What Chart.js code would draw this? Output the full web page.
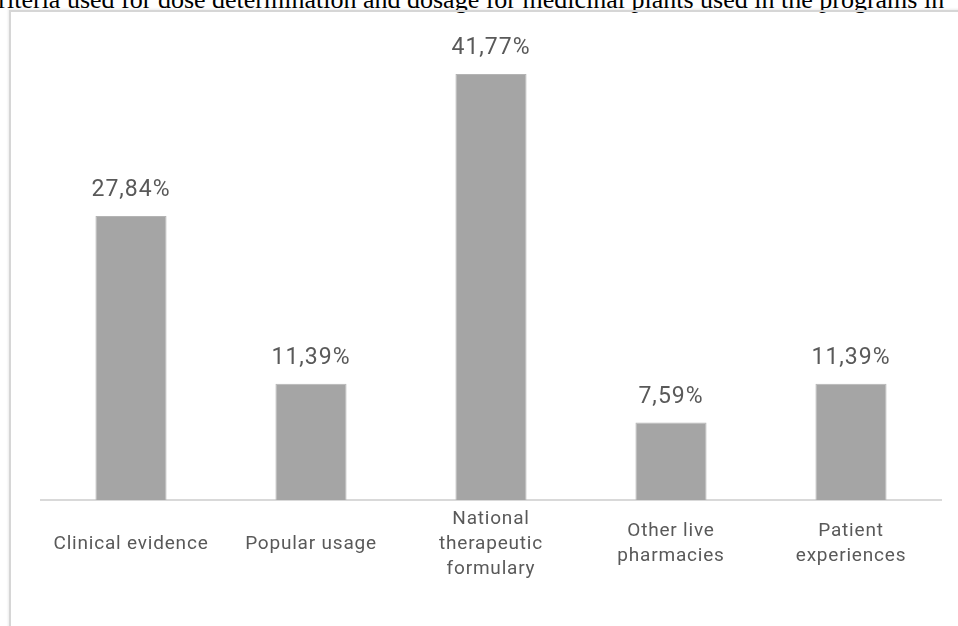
<!DOCTYPE html>
<html>
<head>
<meta charset="utf-8">
<script src="https://cdn.jsdelivr.net/npm/chart.js@4.4.1/dist/chart.umd.min.js"></script>
<style>
  html, body { margin: 0; padding: 0; background: #fff; }
  body { width: 958px; height: 626px; position: relative; overflow: hidden; }
  #title {
    position: absolute; left: -19px; top: -15px; white-space: nowrap;
    font-family: "Liberation Serif", "Times New Roman", serif; font-size: 26px; color: #000;
  }
  #frame {
    position: absolute; left: 9px; top: 10px; width: 1000px; height: 700px;
    border-left: 2px solid #d6d6d6; border-top: 2px solid #d6d6d6;
    box-shadow: -1px -1px 2px rgba(0,0,0,0.08);
  }
  #wrap { position: absolute; left: 0; top: 0; width: 958px; height: 626px; }
</style>
</head>
<body>
<div id="title">Criteria used for dose determination and dosage for medicinal plants used in the programs in</div>
<div id="frame"></div>
<div id="wrap"><canvas id="chart"></canvas></div>
<script>
var categories = [
  'Clinical evidence',
  'Popular usage',
  ['National', 'therapeutic', 'formulary'],
  ['Other live', 'pharmacies'],
  ['Patient', 'experiences']
];
var percentages = [27.84, 11.39, 41.77, 7.59, 11.39];
var percentLabels = ['27,84%', '11,39%', '41,77%', '7,59%', '11,39%'];

// slightly wider text, like the original
var spacing = {
  id: 'spacing',
  beforeDraw: function (chart) {
    chart.ctx.letterSpacing = '0.8px';
  }
};

// labels above each bar
var barLabels = {
  id: 'barLabels',
  afterDatasetsDraw: function (chart) {
    var ctx = chart.ctx;
    var meta = chart.getDatasetMeta(0);
    ctx.save();
    ctx.letterSpacing = '1px';
    ctx.font = '23px Roboto';
    ctx.fillStyle = '#595959';
    ctx.textAlign = 'center';
    ctx.textBaseline = 'alphabetic';
    meta.data.forEach(function (bar, i) {
      ctx.fillText(percentLabels[i], bar.x, bar.y - 20);
    });
    ctx.restore();
  }
};

document.addEventListener('DOMContentLoaded', function () {
  var ctx = document.getElementById('chart').getContext('2d');
  new Chart(ctx, {
    type: 'bar',
    data: {
      labels: categories,
      datasets: [{
        data: percentages,
        backgroundColor: '#a5a5a5',
        borderColor: '#b4b4b4',
        borderWidth: 1,
        barPercentage: 0.79,
        categoryPercentage: 0.5
      }]
    },
    options: {
      responsive: true,
      maintainAspectRatio: false,
      animation: false,
      layout: { padding: { left: 41, right: 17, top: 41, bottom: 0 } },
      plugins: { legend: { display: false }, tooltip: { enabled: false } },
      scales: {
        x: {
          grid: { display: false, drawTicks: false },
          border: { display: true, color: '#d9d9d9', width: 2 },
          ticks: {
            color: '#595959',
            font: { family: 'Roboto', size: 19, lineHeight: 25 / 19 },
            padding: 19,
            crossAlign: 'center',
            maxRotation: 0,
            autoSkip: false
          },
          afterFit: function (scale) { scale.height = 126; }
        },
        y: {
          display: false,
          min: 0,
          max: 45
        }
      }
    },
    plugins: [spacing, barLabels]
  });
});
</script>
</body>
</html>
